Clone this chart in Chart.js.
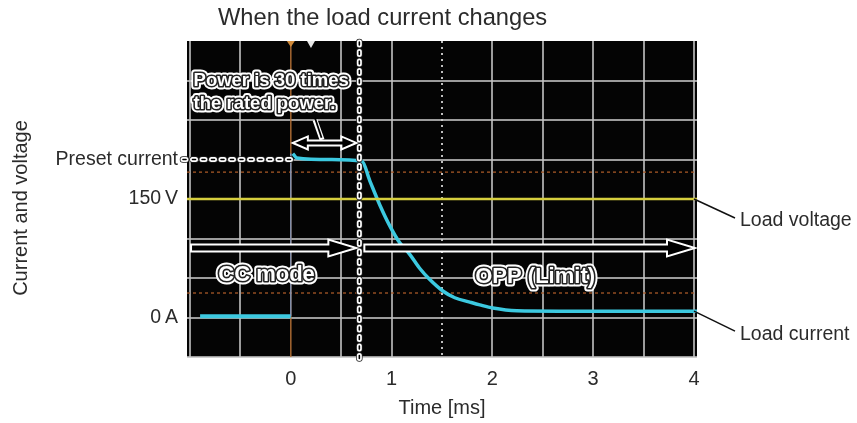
<!DOCTYPE html>
<html>
<head>
<meta charset="utf-8">
<script src="https://cdn.jsdelivr.net/npm/chart.js@4/dist/chart.umd.min.js"></script>
<style>
  html, body { margin: 0; padding: 0; background: #fff; }
  canvas { display: block; }
</style>
</head>
<body>
<canvas id="chart" width="857" height="423"></canvas>
<script>
// time axis [ms]: grid every half ms, labels on whole ms
const xGridTicks = [-1, -0.5, 0, 0.5, 1, 1.5, 2, 2.5, 3, 3.5, 4];
const xTickLabels = [0, 1, 2, 3, 4];
// vertical axis in scope divisions
const yGridTicks = [0, 1, 2, 3, 4, 5, 6, 7];
const yTickValues = [1, 4, 5];
const yTickLabels = ['0\u2009A', '150\u2009V', 'Preset current'];

// load voltage (flat at 150 V)
const voltageTime = [-1.03, 4.03];
const voltageLevel = [4.0, 4.0];

// load current before the step
const preTime = [-0.9, 0.0];
const preCurrent = [1.03, 1.03];
// rising edge (faint on the scope)
const edgeTime = [0.0, 0.0];
const edgeCurrent = [1.03, 5.15];
// current after the step: CC then OPP limit
const limitTime = [0.02, 0.06, 0.4, 0.704, 0.784, 0.883, 0.982, 1.081, 1.18, 1.28, 1.379, 1.508, 1.627, 1.776, 1.875, 2.004, 2.242, 2.669, 3.3, 4.03];
const limitCurrent = [5.15, 5.04, 5.0, 4.96, 4.46, 3.85, 3.32, 2.89, 2.6, 2.24, 1.96, 1.67, 1.5, 1.39, 1.32, 1.24, 1.17, 1.16, 1.16, 1.16];

// scope cursors
const cursorLevels = [4.68, 1.62];
const triggerTime = 0;
const dottedTime = 1.5;
const modeChangeTime = 0.68;

function pts(xs, ys) {
    return xs.map((x, i) => ({x: x, y: ys[i]}));
}

const FONT = '"Liberation Sans", Arial, sans-serif';

function outlinedText(ctx, text, x, y, size) {
    ctx.save();
    ctx.font = 'bold ' + size + 'px ' + FONT;
    ctx.textBaseline = 'middle';
    ctx.textAlign = 'left';
    ctx.lineJoin = 'round';
    ctx.strokeStyle = '#fff';
    ctx.lineWidth = 7;
    ctx.strokeText(text, x, y);
    ctx.strokeStyle = '#222';
    ctx.lineWidth = 3.2;
    ctx.strokeText(text, x, y);
    ctx.fillStyle = '#fff';
    ctx.fillText(text, x, y);
    ctx.restore();
}

function seg(ctx, x0, y0, x1, y1) {
    ctx.beginPath();
    ctx.moveTo(x0, y0);
    ctx.lineTo(x1, y1);
    ctx.stroke();
}

// chain of small hollow ovals
function beadLine(ctx, x0, y0, x1, y1) {
    ctx.save();
    ctx.lineCap = 'round';
    ctx.setLineDash([3, 6.5]);
    ctx.strokeStyle = '#222';
    ctx.lineWidth = 6.5;
    seg(ctx, x0, y0, x1, y1);
    ctx.strokeStyle = '#fff';
    ctx.lineWidth = 5;
    seg(ctx, x0, y0, x1, y1);
    ctx.strokeStyle = '#000';
    ctx.lineWidth = 1.6;
    seg(ctx, x0, y0, x1, y1);
    ctx.restore();
}

function hollowArrow(ctx, x0, x1, y, h, H, L, both) {
    ctx.save();
    ctx.beginPath();
    if (both) {
        ctx.moveTo(x0, y);
        ctx.lineTo(x0 + L, y - H);
        ctx.lineTo(x0 + L, y - h);
    } else {
        ctx.moveTo(x0, y - h);
    }
    ctx.lineTo(x1 - L, y - h);
    ctx.lineTo(x1 - L, y - H);
    ctx.lineTo(x1, y);
    ctx.lineTo(x1 - L, y + H);
    ctx.lineTo(x1 - L, y + h);
    if (both) {
        ctx.lineTo(x0 + L, y + h);
        ctx.lineTo(x0 + L, y + H);
    } else {
        ctx.lineTo(x0, y + h);
    }
    ctx.closePath();
    ctx.fillStyle = '#000';
    ctx.fill();
    ctx.lineJoin = 'miter';
    ctx.strokeStyle = '#fff';
    ctx.lineWidth = 2;
    ctx.stroke();
    ctx.restore();
}

const scopePlugin = {
    id: 'scope',
    beforeDraw(chart) {
        const {ctx, chartArea: a} = chart;
        ctx.save();
        ctx.fillStyle = '#040404';
        ctx.fillRect(a.left, a.top, a.right - a.left, a.bottom - a.top);
        ctx.restore();
    },
    beforeDatasetsDraw(chart) {
        const {ctx, chartArea: a, scales: {x, y}} = chart;
        ctx.save();
        // orange cursor levels
        ctx.strokeStyle = 'rgba(170,90,40,0.85)';
        ctx.lineWidth = 1.5;
        ctx.setLineDash([3, 3]);
        cursorLevels.forEach(v => {
            const py = y.getPixelForValue(v);
            seg(ctx, a.left, py, a.right, py);
        });
        // dotted vertical marker
        ctx.strokeStyle = 'rgba(210,210,210,0.9)';
        ctx.lineWidth = 2;
        ctx.setLineDash([2, 4]);
        const pd = x.getPixelForValue(dottedTime);
        seg(ctx, pd, a.top, pd, a.bottom);
        // trigger position
        ctx.setLineDash([]);
        ctx.strokeStyle = 'rgba(185,115,55,0.9)';
        ctx.lineWidth = 1.5;
        const pt = x.getPixelForValue(triggerTime);
        seg(ctx, pt, a.top, pt, a.bottom);
        // markers at the top
        ctx.fillStyle = '#d08a3a';
        ctx.beginPath();
        ctx.moveTo(pt - 4, a.top);
        ctx.lineTo(pt + 4, a.top);
        ctx.lineTo(pt, a.top + 6);
        ctx.fill();
        const pw = x.getPixelForValue(0.2);
        ctx.fillStyle = '#e8e8e8';
        ctx.beginPath();
        ctx.moveTo(pw - 4, a.top);
        ctx.lineTo(pw + 4, a.top);
        ctx.lineTo(pw, a.top + 7);
        ctx.fill();
        ctx.restore();
    },
    afterDatasetsDraw(chart) {
        const {ctx, chartArea: a, scales: {x, y}} = chart;
        // mode change divider
        const pm = x.getPixelForValue(modeChangeTime);
        beadLine(ctx, pm, a.top + 1, pm, a.bottom + 4);
        // preset current leader
        const pp = y.getPixelForValue(5);
        beadLine(ctx, a.left - 4, pp, x.getPixelForValue(0), pp);
        // CC / OPP arrows
        const ya = y.getPixelForValue(2.76);
        hollowArrow(ctx, x.getPixelForValue(-0.99), pm - 3, ya, 3.5, 8.5, 28, false);
        hollowArrow(ctx, pm + 5, a.right - 2, ya, 3.5, 8.5, 28, false);
        // power span arrow
        const yd = y.getPixelForValue(5.42);
        hollowArrow(ctx, x.getPixelForValue(0.02), pm - 3, yd, 2.5, 6.5, 15, true);
        // pointer from the note to the arrow
        ctx.save();
        ctx.strokeStyle = '#fff';
        ctx.lineWidth = 5;
        seg(ctx, x.getPixelForValue(0.24), y.getPixelForValue(6.0), x.getPixelForValue(0.31), y.getPixelForValue(5.5));
        ctx.strokeStyle = '#000';
        ctx.lineWidth = 1.8;
        seg(ctx, x.getPixelForValue(0.24), y.getPixelForValue(6.05), x.getPixelForValue(0.305), y.getPixelForValue(5.55));
        ctx.restore();
        // notes
        outlinedText(ctx, 'Power is 30 times', x.getPixelForValue(-0.965), y.getPixelForValue(7.0), 18.5);
        outlinedText(ctx, 'the rated power.', x.getPixelForValue(-0.965), y.getPixelForValue(6.4), 18.5);
        outlinedText(ctx, 'CC mode', x.getPixelForValue(-0.72), y.getPixelForValue(2.07), 22);
        outlinedText(ctx, 'OPP (Limit)', x.getPixelForValue(1.83), y.getPixelForValue(2.03), 22);
    },
    afterDraw(chart) {
        const {ctx, chartArea: a, scales: {x, y}} = chart;
        ctx.save();
        ctx.fillStyle = '#2b2b2b';
        ctx.font = '23.7px ' + FONT;
        ctx.textBaseline = 'middle';
        ctx.textAlign = 'left';
        ctx.fillText('When the load current changes', 218, 18);
        // y axis title
        ctx.save();
        ctx.translate(21, 208);
        ctx.rotate(-Math.PI / 2);
        ctx.textAlign = 'center';
        ctx.font = '20px ' + FONT;
        ctx.fillText('Current and voltage', 0, 0);
        ctx.restore();
        // trace labels on the right
        ctx.font = '19.5px ' + FONT;
        ctx.strokeStyle = '#111';
        ctx.lineWidth = 1.5;
        const pv = y.getPixelForValue(voltageLevel[1]);
        const pc = y.getPixelForValue(limitCurrent[limitCurrent.length - 1]);
        seg(ctx, a.right - 3, pv, a.right + 38, pv + 19);
        seg(ctx, a.right - 3, pc, a.right + 38, pc + 20);
        ctx.fillText('Load voltage', a.right + 43, pv + 22);
        ctx.fillText('Load current', a.right + 43, pc + 23);
        ctx.restore();
    }
};

new Chart(document.getElementById('chart'), {
    type: 'scatter',
    data: {
        datasets: [
            {
                label: 'Load voltage',
                data: pts(voltageTime, voltageLevel),
                showLine: true,
                borderColor: '#d6cf3e',
                borderWidth: 2.5,
                pointRadius: 0
            },
            {
                label: 'Edge',
                data: pts(edgeTime, edgeCurrent),
                showLine: true,
                borderColor: 'rgba(120,160,220,0.75)',
                borderWidth: 1.5,
                pointRadius: 0
            },
            {
                label: 'Load current (before)',
                data: pts(preTime, preCurrent),
                showLine: true,
                borderColor: '#3cc9e0',
                borderWidth: 4,
                pointRadius: 0
            },
            {
                label: 'Load current',
                data: pts(limitTime, limitCurrent),
                showLine: true,
                borderColor: '#3cc9e0',
                borderWidth: 3.5,
                pointRadius: 0,
                cubicInterpolationMode: 'monotone'
            }
        ]
    },
    options: {
        responsive: false,
        animation: false,
        layout: { padding: { left: 0, right: 160, top: 41, bottom: 0 } },
        plugins: {
            legend: { display: false },
            tooltip: { enabled: false }
        },
        scales: {
            x: {
                type: 'linear',
                min: -1.03,
                max: 4.03,
                afterBuildTicks: (scale) => {
                    scale.ticks = xGridTicks.map(v => ({value: v}));
                },
                afterFit: (scale) => { scale.height = 66; },
                grid: {
                    drawTicks: false,
                    lineWidth: 2,
                    color: (c) => (c.tick && (c.tick.value === triggerTime || c.tick.value === dottedTime)) ? 'rgba(0,0,0,0)' : 'rgba(195,195,195,0.8)'
                },
                border: { display: false },
                ticks: {
                    autoSkip: false,
                    maxRotation: 0,
                    padding: 10,
                    color: '#2b2b2b',
                    font: { family: FONT, size: 20 },
                    callback: (v) => xTickLabels.includes(v) ? String(v) : ''
                },
                title: {
                    display: true,
                    text: 'Time [ms]',
                    color: '#2b2b2b',
                    font: { family: FONT, size: 20 },
                    padding: { top: 0, bottom: 3 }
                }
            },
            y: {
                type: 'linear',
                min: 0,
                max: 8,
                afterBuildTicks: (scale) => {
                    scale.ticks = yGridTicks.map(v => ({value: v}));
                },
                afterFit: (scale) => { scale.width = 187; },
                grid: {
                    drawTicks: false,
                    lineWidth: 2,
                    color: 'rgba(195,195,195,0.8)'
                },
                border: { display: false },
                ticks: {
                    autoSkip: false,
                    padding: 9,
                    color: '#2b2b2b',
                    font: { family: FONT, size: 19.5 },
                    callback: (v) => {
                        const i = yTickValues.indexOf(v);
                        return i >= 0 ? yTickLabels[i] : '';
                    }
                }
            }
        }
    },
    plugins: [scopePlugin]
});
</script>
</body>
</html>
